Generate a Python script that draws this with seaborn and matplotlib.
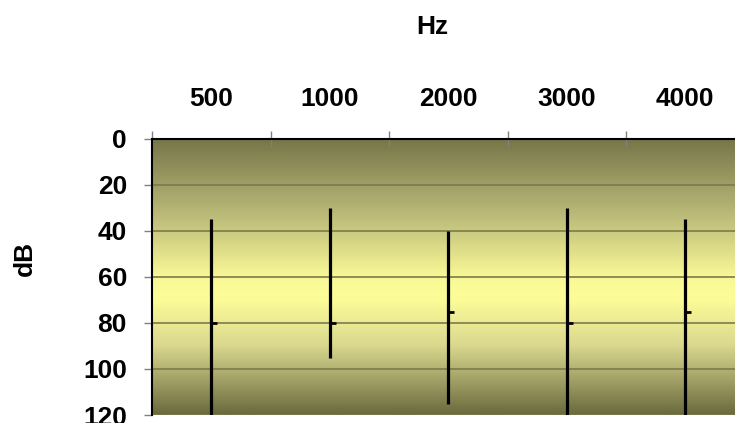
import numpy as np
import pandas as pd
import seaborn as sns
import matplotlib.pyplot as plt
from matplotlib.colors import LinearSegmentedColormap

# audiogram style ranges, one per frequency
freqs = ["500", "1000", "2000", "3000", "4000"]
high_db = [35, 30, 40, 30, 35]     # top of the bar (lower dB)
low_db = [120, 95, 115, 120, 120]  # bottom of the bar
close_db = [80, 80, 75, 80, 75]    # little tick on the right
y_ticks = [0, 20, 40, 60, 80, 100, 120]

sns.set_style("white")
plt.rcParams['font.family'] = ['Liberation Sans', 'DejaVu Sans']
plt.rcParams['text.color'] = 'black'
plt.rcParams['xtick.labelcolor'] = 'black'
plt.rcParams['ytick.labelcolor'] = 'black'

data = pd.DataFrame({"freq": freqs, "high": high_db, "low": low_db, "close": close_db})

fig = plt.figure(figsize=(7.35, 4.23), dpi=100)
ax = fig.add_axes([152 / 735, 8 / 423, 592.5 / 735, 276 / 423])

# background gradient (olive -> pale yellow -> olive)
cmap = LinearSegmentedColormap.from_list(
    "olive", [(0.0, "#767548"), (0.25, "#b4b375"), (0.5, "#f8f896"),
              (0.58, "#fdfd98"), (0.75, "#d9d88e"), (1.0, "#6a693e")])
grad = np.linspace(0, 1, 256).reshape(-1, 1)
ax.imshow(grad, cmap=cmap, aspect="auto", extent=(-0.5, 4.5, 120, 0), zorder=0)

xs = np.arange(len(data))
for y in y_ticks:
    ax.axhline(y, color="#7c7a4c", lw=1.2, zorder=1)

ax.vlines(xs, data["high"], data["low"], color="black", lw=2.3, zorder=3)
ax.plot(xs, data["close"], linestyle="none", marker=1, markersize=4,
        markeredgewidth=2, color="black", zorder=4)

ax.set_xlim(-0.5, 4.5)
ax.set_ylim(120, 0)

ax.xaxis.tick_top()
ax.set_xticks(xs)
ax.set_xticklabels(freqs, fontsize=19, fontweight="bold", color="black")
ax.set_xticks(np.arange(-0.5, 5, 1), minor=True)
ax.tick_params(axis="x", which="major", length=0, pad=20)
ax.tick_params(axis="x", which="minor", direction="inout", length=12, color="#808080", width=1)

ax.set_yticks(y_ticks)
ax.set_yticklabels([str(v) for v in y_ticks], fontsize=19, fontweight="bold", color="black")
ax.tick_params(axis="y", direction="out", length=6, color="#808080", width=1, left=True, pad=12)

for side in ["right", "bottom"]:
    ax.spines[side].set_visible(False)
for side in ["left", "top"]:
    ax.spines[side].set_color("black")
    ax.spines[side].set_linewidth(1.5)

fig.text(432 / 735, 1 - 27 / 423, "Hz", ha="center", va="center", fontsize=19,
         fontweight="bold", color="black")
fig.text(25 / 735, 1 - 258 / 423, "dB", ha="center", va="center", rotation=90,
         fontsize=19, fontweight="bold", color="black")

fig.savefig("out.png", dpi=100)
